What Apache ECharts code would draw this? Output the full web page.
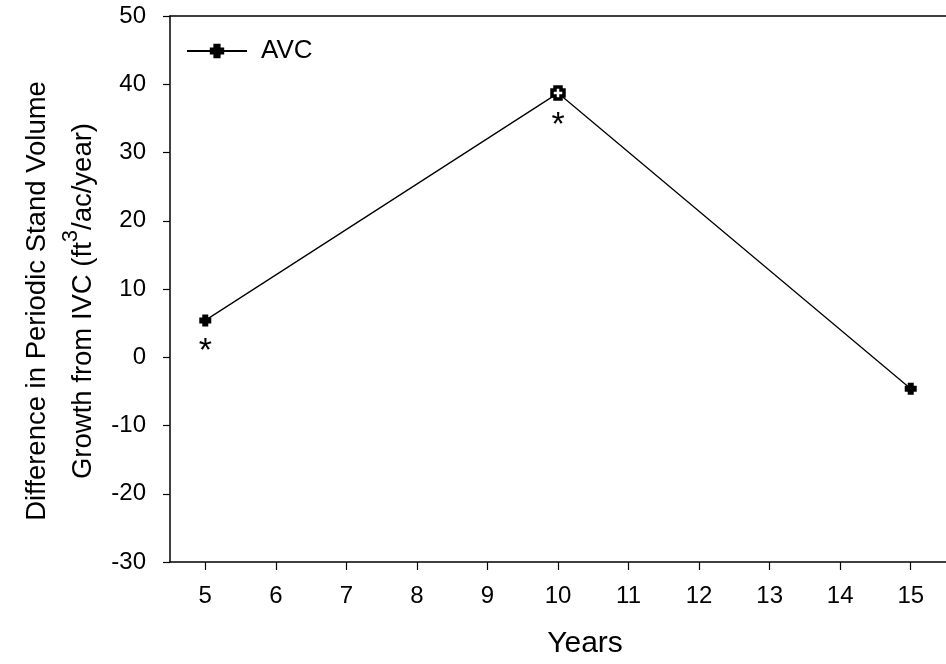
<!DOCTYPE html>
<html>
<head>
<meta charset="utf-8">
<script src="https://cdn.jsdelivr.net/npm/echarts@6/dist/echarts.min.js"></script>
<style>
html,body{margin:0;padding:0;background:#fff;}
#c{width:946px;height:664px;}
</style>
</head>
<body>
<div id="c"></div>
<script>
// Data
const years = [5, 10, 15];
const avcValues = [5.4, 38.7, -4.6];
const significance = ['*', '*', ''];
const xTicks = [5, 6, 7, 8, 9, 10, 11, 12, 13, 14, 15];
const seriesName = 'AVC';

const FONT = 'Liberation Sans, Arial, sans-serif';
const plusPath = 'path://M3,0H9V3H12V9H9V12H3V9H0V3H3Z';

const lineData = years.map((y, i) => {
  const item = { value: [y, avcValues[i]] };
  if (i === 1) {
    item.itemStyle = { color: '#ffffff', borderColor: '#000', borderWidth: 3.5 };
  }
  if (significance[i]) {
    item.label = { show: true, formatter: significance[i] };
  }
  return item;
});

const chart = echarts.init(document.getElementById('c'), null, { renderer: 'canvas' });
chart.setOption({
  backgroundColor: '#ffffff',
  animation: false,
  grid: { left: 170, top: 16, width: 778, height: 546, containLabel: false },
  legend: {
    left: 186, top: 38, padding: 0,
    itemWidth: 60, itemHeight: 18,
    data: [seriesName],
    textStyle: { fontFamily: FONT, fontSize: 26, color: '#000', padding: [0, 0, 0, 9] }
  },
  xAxis: [{
    type: 'value',
    min: 4.5, max: 15.5,
    name: 'Years',
    nameLocation: 'middle',
    nameGap: 67,
    nameTextStyle: { fontFamily: FONT, fontSize: 30, color: '#000', padding: [0, 0, 0, 54] },
    axisLine: { show: true, onZero: false, lineStyle: { color: '#000', width: 1.5 } },
    axisTick: { show: true, length: 8, inside: false, customValues: xTicks, lineStyle: { color: '#000', width: 1.2 } },
    axisLabel: { show: true, customValues: xTicks, margin: 22, fontFamily: FONT, fontSize: 24, color: '#000' },
    splitLine: { show: false }
  }, {
    type: 'value',
    position: 'top',
    min: 4.5, max: 15.5,
    axisLine: { show: true, onZero: false, lineStyle: { color: '#000', width: 1.5 } },
    axisTick: { show: false },
    axisLabel: { show: false },
    splitLine: { show: false }
  }],
  yAxis: {
    type: 'value',
    min: -30, max: 50, interval: 10,
    name: '{t|Difference in Periodic Stand Volume}\n{t|Growth from IVC (ft}{s|3}{t|/ac/year)}',
    nameLocation: 'middle',
    nameGap: 64,
    nameRotate: 90,
    nameTextStyle: {
      fontFamily: FONT, fontSize: 27.5, color: '#000',
      padding: [0, 24, 0, 0],
      rich: {
        t: { fontFamily: FONT, fontSize: 27.5, color: '#000', lineHeight: 46, verticalAlign: 'middle' },
        s: { fontFamily: FONT, fontSize: 22, color: '#000', lineHeight: 46, verticalAlign: 'top' }
      }
    },
    axisLine: { show: true, onZero: false, lineStyle: { color: '#000', width: 1.5 } },
    axisTick: { show: true, length: 7, inside: false, lineStyle: { color: '#000', width: 1.2 } },
    axisLabel: { margin: 24, fontFamily: FONT, fontSize: 24, color: '#000' },
    splitLine: { show: false }
  },
  series: [{
    name: seriesName,
    type: 'line',
    data: lineData,
    symbol: plusPath,
    symbolSize: 12,
    showAllSymbol: true,
    itemStyle: { color: '#000' },
    lineStyle: { color: '#000', width: 1.3 },
    label: {
      show: false,
      position: 'bottom',
      distance: 8,
      fontFamily: FONT,
      fontSize: 34,
      color: '#000'
    },
    emphasis: { disabled: true }
  }]
});
</script>
</body>
</html>
